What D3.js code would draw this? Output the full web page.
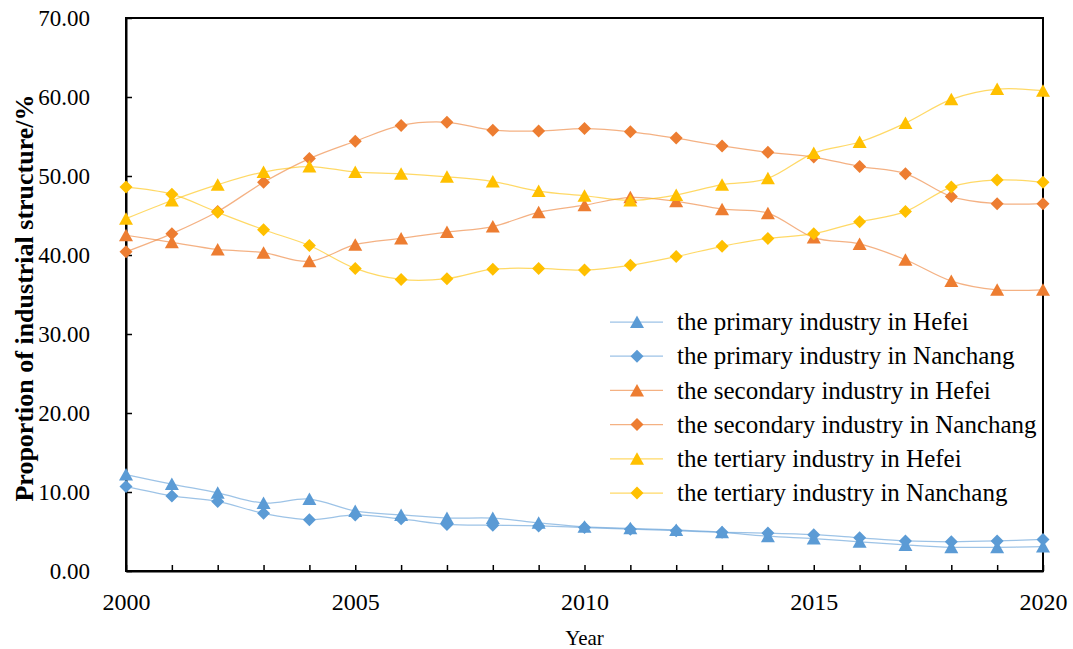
<!DOCTYPE html>
<html>
<head>
<meta charset="utf-8">
<script src="https://cdn.jsdelivr.net/npm/d3@7"></script>
<style>
  body { margin: 0; background: #fff; }
  svg { display: block; font-family: "Liberation Serif", "Times New Roman", serif; }
  .axis path, .axis line { stroke: #000; }
  .axis text { fill: #000; font-family: "Liberation Serif", "Times New Roman", serif; }
</style>
</head>
<body>
<svg id="chart" width="1073" height="649"></svg>
<script>
var years = [2000, 2001, 2002, 2003, 2004, 2005, 2006, 2007, 2008, 2009, 2010,
             2011, 2012, 2013, 2014, 2015, 2016, 2017, 2018, 2019, 2020];

var primaryHefei      = [12.2, 11.0, 9.9, 8.6, 9.1, 7.6, 7.1, 6.7, 6.7, 6.1, 5.6, 5.4, 5.2, 4.9, 4.4, 4.1, 3.7, 3.3, 3.0, 3.0, 3.1];
var primaryNanchang   = [10.7, 9.5, 8.8, 7.3, 6.5, 7.1, 6.6, 5.9, 5.8, 5.7, 5.5, 5.3, 5.1, 4.9, 4.8, 4.6, 4.2, 3.8, 3.7, 3.8, 4.0];
var secondaryHefei    = [42.5, 41.6, 40.7, 40.3, 39.2, 41.3, 42.1, 42.9, 43.6, 45.4, 46.3, 47.3, 46.8, 45.8, 45.3, 42.2, 41.4, 39.4, 36.7, 35.6, 35.6];
var secondaryNanchang = [40.4, 42.7, 45.5, 49.2, 52.2, 54.4, 56.4, 56.8, 55.8, 55.7, 56.0, 55.6, 54.8, 53.8, 53.0, 52.4, 51.2, 50.3, 47.4, 46.5, 46.5];
var tertiaryHefei     = [44.6, 46.9, 48.9, 50.5, 51.2, 50.5, 50.3, 49.9, 49.3, 48.1, 47.5, 46.9, 47.6, 48.9, 49.7, 52.9, 54.3, 56.7, 59.7, 61.0, 60.8];
var tertiaryNanchang  = [48.6, 47.7, 45.4, 43.2, 41.2, 38.3, 36.9, 37.0, 38.2, 38.3, 38.1, 38.7, 39.8, 41.1, 42.1, 42.7, 44.2, 45.5, 48.6, 49.5, 49.2];

var seriesNames = [
    "the primary industry in Hefei",
    "the primary industry in Nanchang",
    "the secondary industry in Hefei",
    "the secondary industry in Nanchang",
    "the tertiary industry in Hefei",
    "the tertiary industry in Nanchang"
];
var yTicks = [0, 10, 20, 30, 40, 50, 60, 70];
var xLabelYears = [2000, 2005, 2010, 2015, 2020];

var series = [
    {name: seriesNames[0], values: primaryHefei,      color: "#5B9BD5", shape: "tri"},
    {name: seriesNames[1], values: primaryNanchang,   color: "#5B9BD5", shape: "dia"},
    {name: seriesNames[2], values: secondaryHefei,    color: "#ED7D31", shape: "tri"},
    {name: seriesNames[3], values: secondaryNanchang, color: "#ED7D31", shape: "dia"},
    {name: seriesNames[4], values: tertiaryHefei,     color: "#FFC000", shape: "tri"},
    {name: seriesNames[5], values: tertiaryNanchang,  color: "#FFC000", shape: "dia"}
];

var shapes = {
    tri: "M0,-6.5L7,6L-7,6Z",
    dia: "M0,-6.5L6.5,0L0,6.5L-6.5,0Z"
};

// plot box (window.top is reserved, so no "top" here)
var plotL = 126, plotR = 1043, plotT = 18, plotB = 571;

var svg = d3.select("#chart");

var x = d3.scaleLinear().domain([2000, 2020]).range([plotL, plotR]),
    y = d3.scaleLinear().domain([0, 70]).range([plotB, plotT]);

// frame
svg.append("rect")
    .attr("x", plotL).attr("y", plotT)
    .attr("width", plotR - plotL).attr("height", plotB - plotT)
    .attr("fill", "none")
    .attr("stroke", "#000")
    .attr("stroke-width", 2);

var yaxis = svg.append("g")
    .attr("class", "axis")
    .attr("transform", "translate(" + plotL + ",0)")
    .call(d3.axisLeft(y)
        .tickValues(yTicks)
        .tickSizeInner(-6)
        .tickSizeOuter(0)
        .tickPadding(36)
        .tickFormat(d3.format(".2f")));
yaxis.attr("font-family", null).attr("font-size", null);
yaxis.select(".domain").attr("stroke-width", 2);
yaxis.selectAll(".tick line").attr("stroke-width", 1.5);
yaxis.selectAll("text").style("font-size", "23px");

var xaxis = svg.append("g")
    .attr("class", "axis")
    .attr("transform", "translate(0," + plotB + ")")
    .call(d3.axisBottom(x)
        .tickValues(years)
        .tickSizeInner(-6)
        .tickSizeOuter(0)
        .tickPadding(22)
        .tickFormat(function(d) { return xLabelYears.indexOf(d) >= 0 ? d : ""; }));
xaxis.attr("font-family", null).attr("font-size", null);
xaxis.select(".domain").attr("stroke-width", 2);
xaxis.selectAll(".tick line").attr("stroke-width", 1.5);
xaxis.selectAll("text").style("font-size", "24px");

svg.append("text")
    .attr("x", (plotL + plotR) / 2)
    .attr("y", 645)
    .attr("text-anchor", "middle")
    .style("font-size", "21px")
    .text("Year");

svg.append("text")
    .attr("transform", "translate(33,298) rotate(-90)")
    .attr("text-anchor", "middle")
    .style("font-size", "26px")
    .style("font-weight", "bold")
    .text("Proportion of industrial structure/%");

var line = d3.line()
    .curve(d3.curveCardinal.tension(0))
    .x(function(d, i) { return x(years[i]); })
    .y(function(d) { return y(d); });

var groups = svg.selectAll(".series")
    .data(series)
    .enter().append("g")
    .attr("class", "series");

groups.each(function(s) {
    var g = d3.select(this);
    g.append("path")
        .attr("d", line(s.values))
        .attr("fill", "none")
        .attr("stroke", s.color)
        .attr("stroke-opacity", 0.6)
        .attr("stroke-width", 1.25);
    g.selectAll(".pt")
        .data(s.values)
        .enter().append("path")
        .attr("class", "pt")
        .attr("d", shapes[s.shape])
        .attr("fill", s.color)
        .attr("transform", function(d, i) { return "translate(" + x(years[i]) + "," + y(d) + ")"; });
});

// legend
var legend = svg.selectAll(".legend")
    .data(series)
    .enter().append("g")
    .attr("class", "legend")
    .attr("transform", function(d, i) { return "translate(610," + (322 + i * 34.2) + ")"; });

legend.append("line")
    .attr("x1", 0).attr("x2", 53)
    .attr("stroke", function(d) { return d.color; })
    .attr("stroke-opacity", 0.6)
    .attr("stroke-width", 1.25);
legend.append("path")
    .attr("d", function(d) { return shapes[d.shape]; })
    .attr("transform", "translate(27,0)")
    .attr("fill", function(d) { return d.color; });
legend.append("text")
    .attr("x", 67)
    .attr("dy", "0.33em")
    .style("font-size", "25px")
    .text(function(d) { return d.name; });
</script>
</body>
</html>
